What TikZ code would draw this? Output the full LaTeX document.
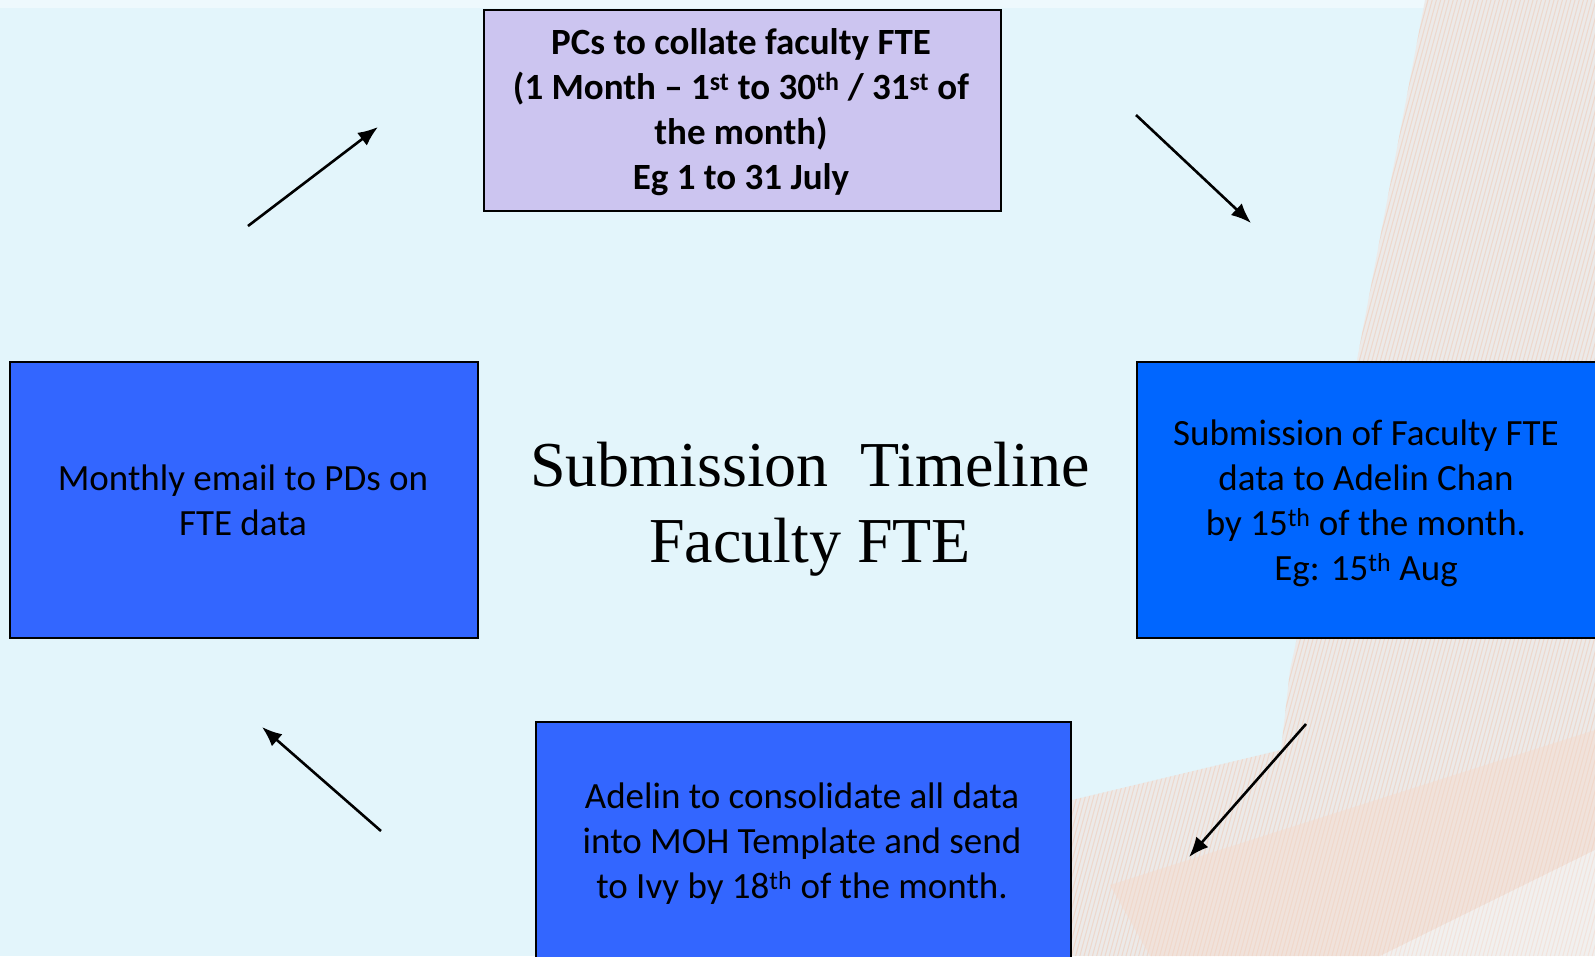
\documentclass[tikz,border=0pt]{standalone}
\usepackage{fontspec}
\setmainfont{Carlito}
\newfontfamily\titlefont{Liberation Serif}
\usetikzlibrary{arrows.meta}
\definecolor{bgblue}{RGB}{227,245,251}
\definecolor{lav}{RGB}{204,197,240}
\definecolor{boxblue}{RGB}{51,102,255}
\definecolor{boxbright}{RGB}{0,102,255}
\definecolor{peach}{RGB}{240,200,178}
\definecolor{peachfill}{RGB}{236,234,233}
\definecolor{dotband}{RGB}{246,216,200}
\tikzset{
  stepbox/.style={draw=black, line width=1.5pt, inner sep=0pt, anchor=north west, align=center, text=black},
  boxtext/.style={font=\fontsize{37}{45}\selectfont},
  flowarrow/.style={line width=2.6pt, -{Latex[length=20pt,width=16pt]}},
  titletext/.style={font=\titlefont\fontsize{64}{76}\selectfont, anchor=base}
}
\begin{document}
\begin{tikzpicture}[x=1pt,y=-1pt]
\useasboundingbox (0,0) rectangle (1595,956);
\clip (0,0) rectangle (1595,956);
% background
\fill[bgblue] (0,0) rectangle (1595,956);
\fill[white!40!bgblue] (0,0) rectangle (1595,8);
% striped decorative region
\begin{scope}
  \clip (1425,0) -- (1595,0) -- (1595,956) -- (1072,956) -- (1072,800) -- (1281,750) -- (1290,670) -- (1357,360) -- cycle;
  \fill[peachfill] (1000,0) rectangle (1595,956);
  \foreach \i in {0,...,190} {
    \draw[peach, line width=1.1pt, opacity=0.5] (1000+\i*4.2,956) -- (1000+\i*4.2+260,0);
  }
  \fill[dotband, opacity=0.4] (1110,885) -- (1595,730) -- (1595,850) -- (1380,956) -- (1150,956) -- cycle;
  \fill[white, opacity=0.3] (1380,956) -- (1595,850) -- (1595,956) -- cycle;
\end{scope}
% boxes
\node[stepbox, fill=lav, minimum width=517pt, minimum height=201pt] (pc) at (483,9) {};
\node[boxtext, font=\bfseries\fontsize{37}{45}\selectfont, align=center] (pctext) at (741,112)
  {PCs to collate faculty FTE\\(1 Month -- 1\textsuperscript{st} to 30\textsuperscript{th} / 31\textsuperscript{st} of\\the month)\\Eg 1 to 31 July};
\node[stepbox, fill=boxbright, minimum width=470pt, minimum height=276pt] (sub) at (1136,361) {};
\node[boxtext, align=center] (subtext) at (1366,503)
  {Submission of Faculty FTE\\data to Adelin Chan\\by 15\textsuperscript{th} of the month.\\Eg: 15\textsuperscript{th} Aug};
\node[stepbox, fill=boxblue, minimum width=535pt, minimum height=250pt] (adl) at (535,721) {};
\node[boxtext, align=center] (adltext) at (802,844)
  {Adelin to consolidate all data\\into MOH Template and send\\to Ivy by 18\textsuperscript{th} of the month.};
\node[stepbox, fill=boxblue, minimum width=468pt, minimum height=276pt] (mail) at (9,361) {};
\node[boxtext, align=center] (mailtext) at (243,500)
  {Monthly email to PDs on\\FTE data};
% title
\node[titletext] (t1) at (810,486) {Submission\ \ Timeline};
\node[titletext] (t2) at (810,562) {Faculty FTE};
% arrows
\coordinate (a1s) at (248,226); \coordinate (a1e) at (378,127);
\coordinate (a2s) at (1136,115); \coordinate (a2e) at (1251,223);
\coordinate (a3s) at (1306,724); \coordinate (a3e) at (1189,857);
\coordinate (a4s) at (381,831); \coordinate (a4e) at (262,727);
\draw[flowarrow] (a1s) -- (a1e);
\draw[flowarrow] (a2s) -- (a2e);
\draw[flowarrow] (a3s) -- (a3e);
\draw[flowarrow] (a4s) -- (a4e);
\end{tikzpicture}
\end{document}
